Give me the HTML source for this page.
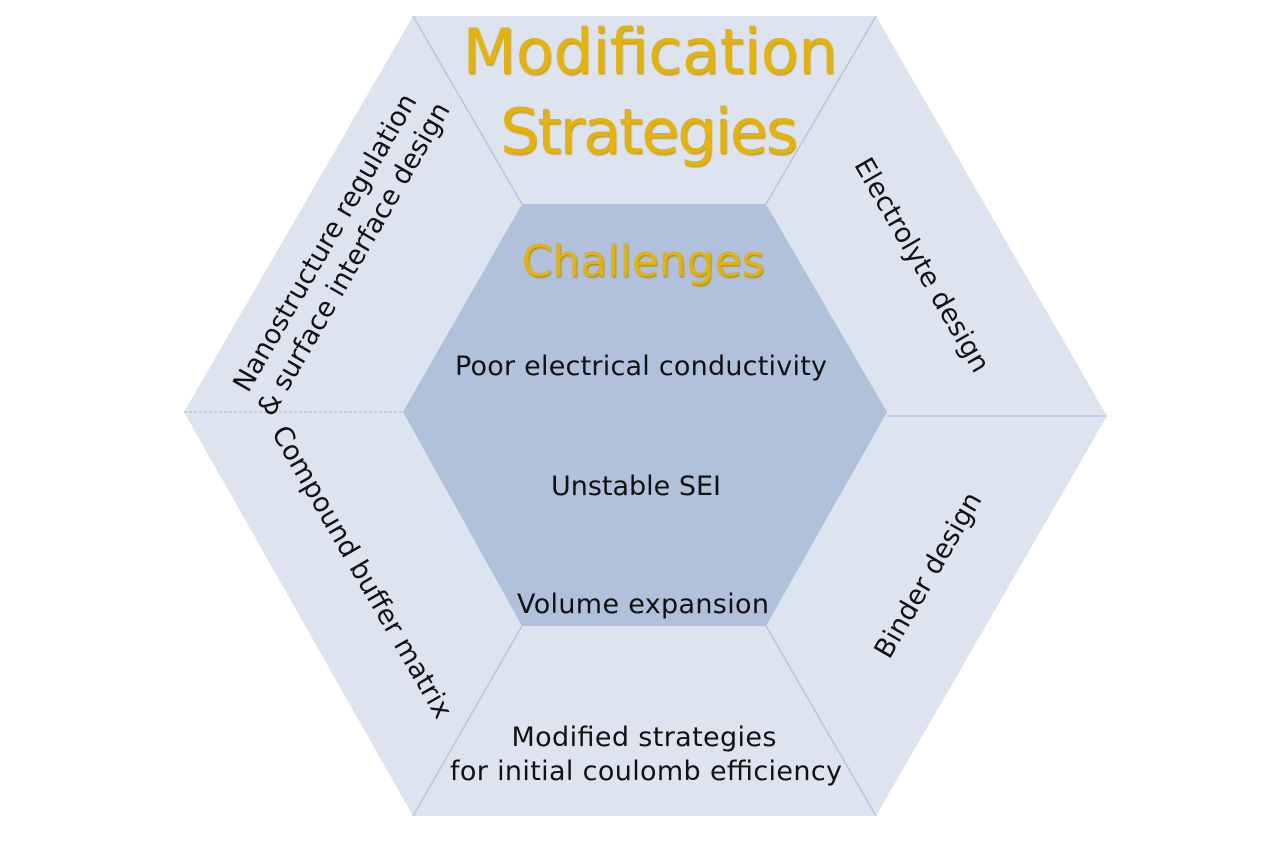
<!DOCTYPE html>
<html><head><meta charset="utf-8"><style>
html,body{margin:0;padding:0;background:#fff;width:1283px;height:844px;overflow:hidden}
svg text{font-family:"DejaVu Sans","Liberation Sans",sans-serif}
</style></head><body>
<svg width="1283" height="844" viewBox="0 0 1283 844" xmlns="http://www.w3.org/2000/svg">
<defs><filter id="sh" x="-10%" y="-10%" width="120%" height="130%"><feDropShadow dx="1" dy="1.5" stdDeviation="0.8" flood-color="#8a6a00" flood-opacity="0.6"/></filter></defs>
<polygon points="413,16 876,16 1107,416 876,816 413,816 184,412" fill="#dde3ef"/>
<g stroke="#b9c6de" stroke-width="1.5" fill="none">
<line x1="413" y1="16" x2="522" y2="204"/>
<line x1="876" y1="16" x2="766" y2="204"/>
<line x1="184" y1="412" x2="403" y2="412" stroke-dasharray="3,2"/>
<line x1="1107" y1="416" x2="887" y2="416"/>
<line x1="413" y1="816" x2="522" y2="626"/>
<line x1="876" y1="816" x2="766" y2="626"/>
</g>
<polygon points="522,204 766,204 887,412 766,626 522,626 403,412" fill="#b1c1dc"/>
<g fill="#e6b400" filter="url(#sh)" text-anchor="middle">
<text x="650" y="73" font-size="62" textLength="375">Modification</text>
<text x="649" y="153" font-size="62" textLength="298">Strategies</text>
<text x="643" y="276" font-size="44" textLength="243">Challenges</text>
</g>
<g fill="#111" text-anchor="middle" font-size="27">
<text x="641" y="375" textLength="372">Poor electrical conductivity</text>
<text x="636" y="495" textLength="170">Unstable SEI</text>
<text x="643" y="613" textLength="252">Volume expansion</text>
<text x="644" y="746" textLength="265">Modified strategies</text>
<text x="646" y="780" textLength="392">for initial coulomb efficiency</text>
<text transform="translate(338,250) rotate(-60)" y="-6">Nanostructure regulation</text>
<text transform="translate(338,250) rotate(-60)" y="27">&amp; surface interface design</text>
<text transform="translate(922,265) rotate(60)" y="9">Electrolyte design</text>
<text transform="translate(362,572) rotate(60)" y="9">Compound buffer matrix</text>
<text transform="translate(928,575) rotate(-60)" y="9">Binder design</text>
</g>
</svg>
</body></html>
